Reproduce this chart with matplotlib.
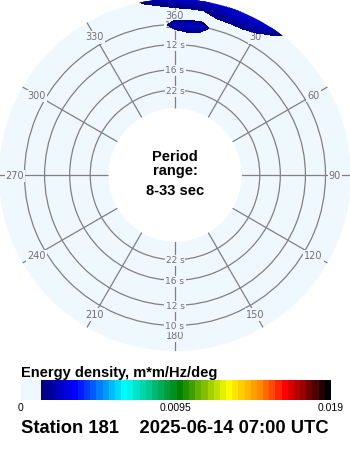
import numpy as np
import matplotlib
matplotlib.use("Agg")
import matplotlib.pyplot as plt
from matplotlib.colors import ListedColormap, BoundaryNorm, LinearSegmentedColormap
from matplotlib.cm import ScalarMappable

# ---------------- data ----------------
station = "181"
timestamp = "2025-06-14 07:00 UTC"
period_text = "8-33 sec"
ring_periods = [10, 12, 16, 22]                 # seconds
direction_ticks = [0, 30, 60, 90, 120, 150, 180, 210, 240, 270, 300, 330]
direction_labels = ["360", "30", "60", "90", "120", "150", "180",
                    "210", "240", "270", "300", "330"]
cbar_ticks = [0, 0.0095, 0.019]
cbar_ticklabels = ["0", "0.0095", "0.019"]

# energy density grid (rows: frequency, cols: direction)
theta_deg = [-15, -10, -5, 0, 5, 10, 15, 20, 25, 30, 35, 40, 45]
freq_hz = [0.090, 0.095, 0.100, 0.105, 0.110, 0.115, 0.125]
energy = [
    [0, 0, 0, 0, 0, 0, 0, 0, 0, 0, 0, 0, 0],
    [0, 0, 0, 0.0009, 0.0014, 0.0010, 0, 0, 0, 0, 0, 0, 0],
    [0, 0, 0.0004, 0.0022, 0.0024, 0.0024, 0.0003, 0, 0, 0, 0, 0, 0],
    [0, 0, 0, 0.0006, 0.0008, 0.0008, 0, 0, 0, 0, 0, 0, 0],
    [0, 0, 0.0003, 0.0002, 0.0002, 0.0003, 0.0013, 0.00145, 0.0015, 0.0009, 0.0004, 0, 0],
    [0, 0.0003, 0.0010, 0.0014, 0.0015, 0.0015, 0.0019, 0.0022, 0.0022, 0.0020, 0.0008, 0.0001, 0],
    [0.0006, 0.0024, 0.0028, 0.0030, 0.0030, 0.0030, 0.0030, 0.0030, 0.0029, 0.0030, 0.0030, 0.0008, 0],
]

# ---------------- style / layout ----------------
W, H = 350, 450
DISK = "#f0f8ff"
GRID = "#808080"
TXT = "#707070"
CX, CY, R_PX = 175, 175, 176          # disk centre / radius in pixels
PX_PER_HZ, R0_PX = 1205.0, 30.0       # radial scale: r_px = R0 + k*f

rorigin = -R0_PX / PX_PER_HZ
rmax = (R_PX - R0_PX) / PX_PER_HZ
rmin = 1.0 / 33.0
label_r = (160 - R0_PX) / PX_PER_HZ


def fx(x):
    return x / W


def fy(y):
    return 1 - y / H


fig = plt.figure(figsize=(W / 100, H / 100), dpi=100)
fig.patch.set_facecolor("white")

ax = fig.add_axes([fx(CX - R_PX), fy(CY + R_PX), 2 * R_PX / W, 2 * R_PX / H],
                  projection="polar")
ax.set_facecolor(DISK)
ax.set_theta_zero_location("N")
ax.set_theta_direction(-1)
ax.set_thetagrids(direction_ticks, labels=[""] * len(direction_ticks))
ax.set_rgrids([1.0 / p for p in ring_periods], labels=[""] * len(ring_periods))
ax.grid(True, color=GRID, linewidth=0.9)
ax.tick_params(which="both", length=0)
for s in ax.spines.values():
    s.set_visible(False)
    s.set_edgecolor("none")
    s.set_linewidth(0)

# direction labels
for d, lab in zip(direction_ticks, direction_labels):
    ax.text(np.deg2rad(d), label_r, lab, ha="center", va="center_baseline",
            fontsize=7, color=TXT, family="DejaVu Sans", zorder=3,
            bbox=dict(boxstyle="square,pad=0.12", fc=DISK, ec="none"))

# ring labels at top and bottom
for p in ring_periods:
    for d in (0, 180):
        ax.text(np.deg2rad(d), 1.0 / p, f"{p} s", ha="center", va="center_baseline",
                fontsize=6.5, color=TXT, family="DejaVu Sans", zorder=3,
                bbox=dict(boxstyle="square,pad=0.12", fc=DISK, ec="none"))

# colour scale
stops = [(0.00, "#000080"), (0.11, "#0000ff"), (0.285, "#00ffff"),
         (0.48, "#008000"), (0.65, "#ffff00"), (0.77, "#ff8000"),
         (0.85, "#ff0000"), (0.93, "#800000"), (1.00, "#000000")]
grad = LinearSegmentedColormap.from_list("wave", stops)
n_col = 47
first = 0.00123
bounds = np.concatenate([[0.0], np.linspace(first, 0.019, n_col + 1)])
colors = [DISK] + [grad(i / (n_col - 1)) for i in range(n_col)]
cmap = ListedColormap(colors)
norm = BoundaryNorm(bounds, cmap.N)

TH, FR = np.meshgrid(np.deg2rad(theta_deg), freq_hz)
E = np.array(energy)
cs = ax.contourf(TH, FR, E, levels=bounds[1:], cmap=cmap, norm=norm, zorder=5)
cs.set_edgecolor("face")
cs.set_linewidth(0.6)
ax.set_rlim(rmin, rmax)
ax.set_rorigin(rorigin)

# centre text
bold = dict(family="Liberation Sans", fontweight="bold", color="black",
            ha="center", va="baseline")
fig.text(fx(175), fy(161.5), "Period", fontsize=10.5, **bold)
fig.text(fx(175), fy(174.5), "range:", fontsize=10.5, **bold)
fig.text(fx(175), fy(195), period_text, fontsize=10.5, **bold)

# colourbar
cax = fig.add_axes([fx(20.7), fy(400), (331 - 20.7) / W, 20 / H])
cb = fig.colorbar(ScalarMappable(norm=norm, cmap=cmap), cax=cax,
                  orientation="horizontal", spacing="proportional",
                  ticks=cbar_ticks)
cb.outline.set_visible(False)
cb.set_ticklabels(cbar_ticklabels)
cax.minorticks_off()
cax.tick_params(which="both", length=0, pad=2, labelsize=7.5)
for t in cax.get_xticklabels():
    t.set_family("Liberation Sans")

fig.text(fx(21), fy(377), "Energy density, m*m/Hz/deg", fontsize=10.5,
         family="Liberation Sans", fontweight="bold", ha="left", va="baseline")
fig.text(fx(21), fy(433), f"Station {station}    {timestamp}", fontsize=13.2,
         family="Liberation Sans", fontweight="bold", ha="left", va="baseline")

fig.savefig("out.png", dpi=100, facecolor="white")
